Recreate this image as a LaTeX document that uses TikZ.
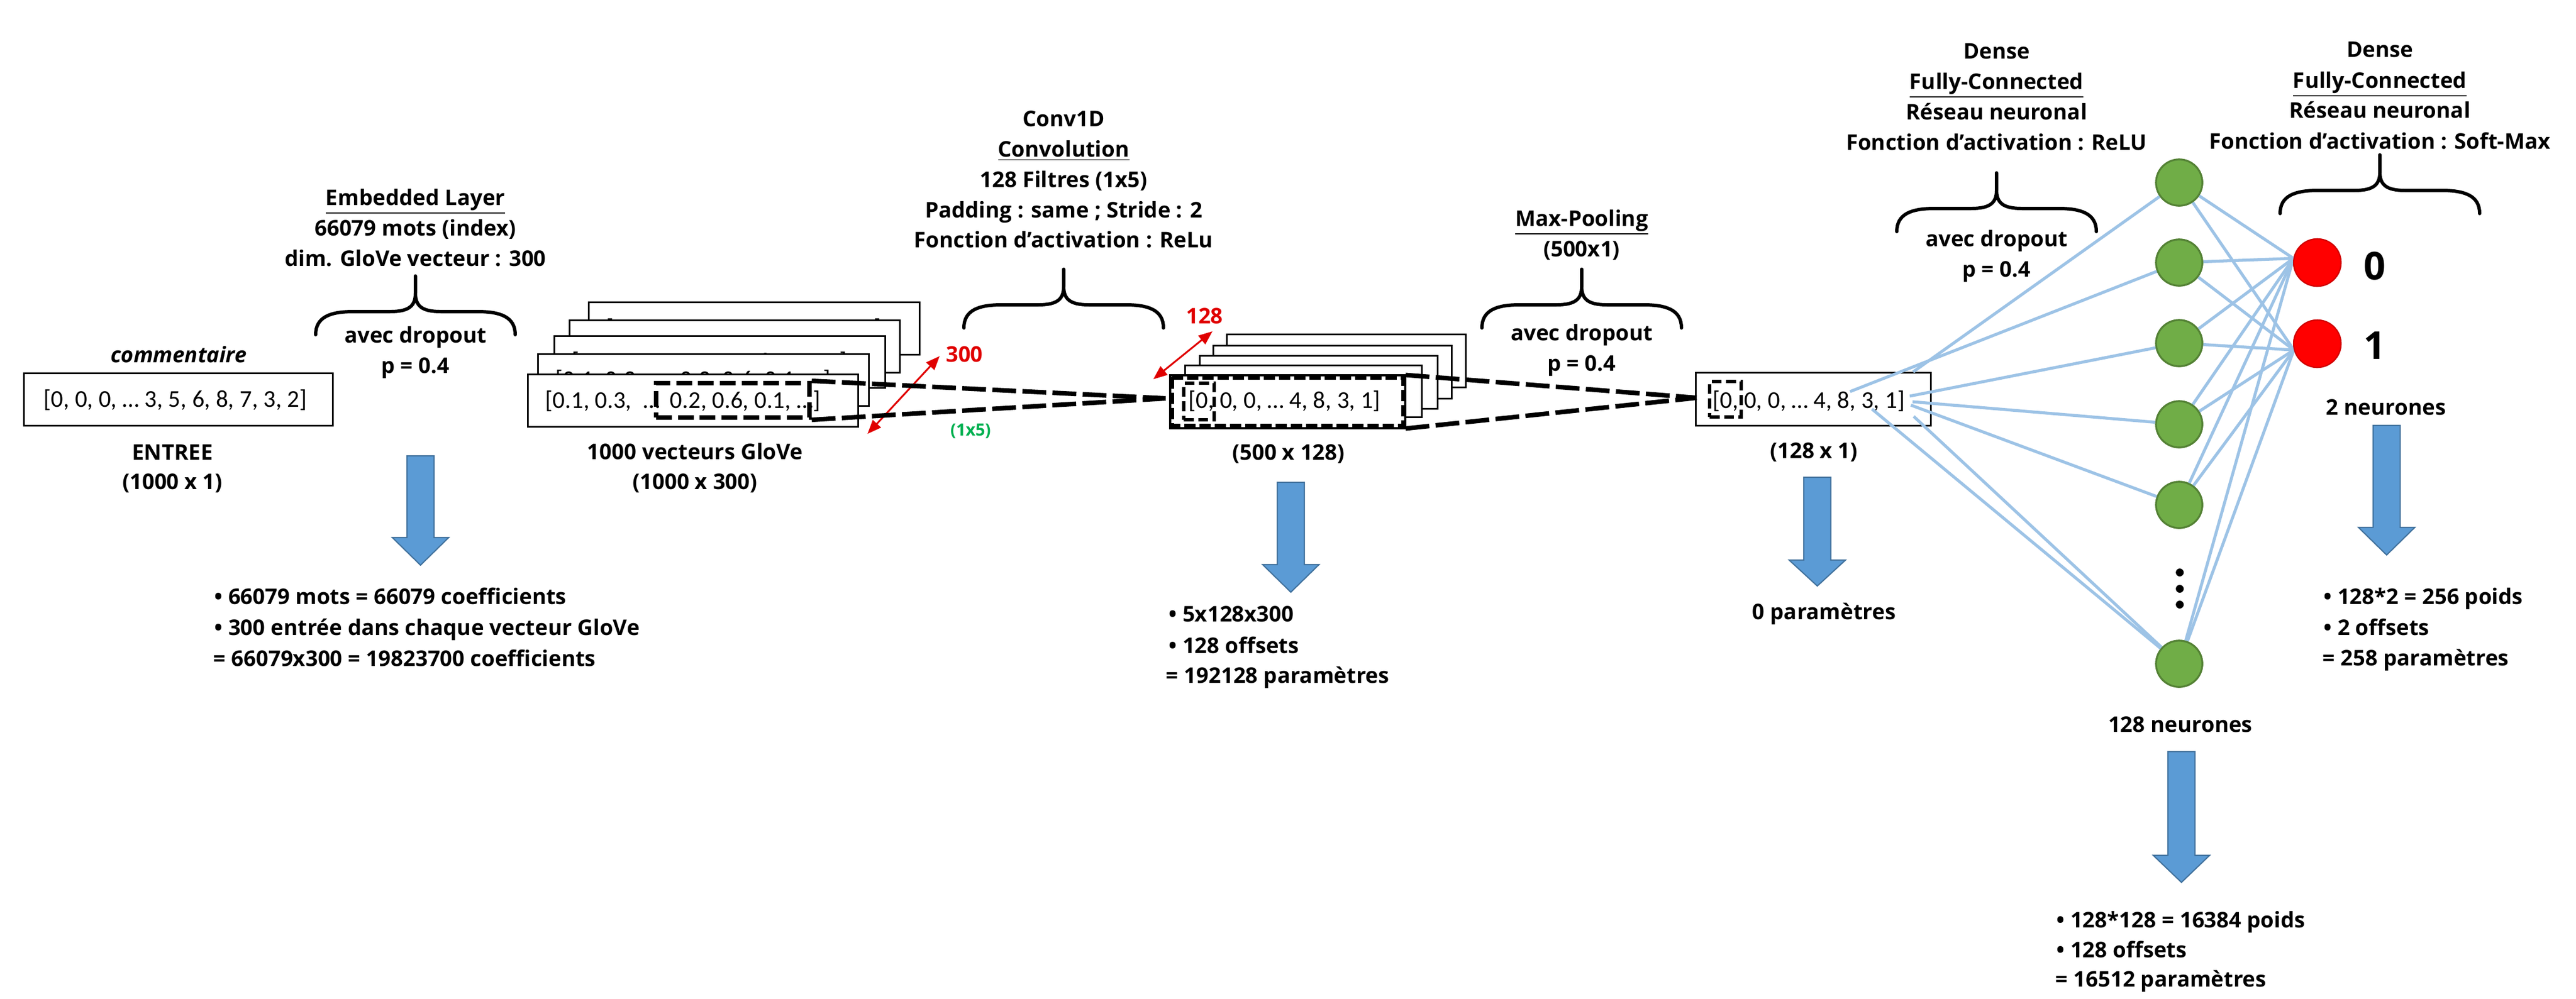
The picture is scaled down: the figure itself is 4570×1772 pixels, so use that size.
\documentclass[tikz,border=0pt]{standalone}
\usepackage{fontspec}
\setmainfont{Open Sans}
\newfontfamily\boxfont{Carlito}
\usetikzlibrary{arrows.meta}

\definecolor{lineblue}{HTML}{9DC3E6}
\definecolor{arrowblue}{HTML}{5B9BD5}
\definecolor{arrowedge}{HTML}{41719C}
\definecolor{neurgreen}{HTML}{70AD47}
\definecolor{neuredge}{HTML}{548235}
\definecolor{neurred}{HTML}{FF0000}
\definecolor{neurrededge}{HTML}{D00000}
\definecolor{darkred}{HTML}{E00000}
\definecolor{labgreen}{HTML}{00B050}

\tikzset{
  lbl/.style={font=\fontsize{10.9}{15}\selectfont\bfseries, anchor=base, inner sep=0pt},
  bul/.style={lbl, anchor=base west},
  redlbl/.style={lbl, text=darkred},
  vecbox/.style={draw=black, line width=0.85pt, fill=white, inner sep=0pt},
  vectxt/.style={font=\boxfont\fontsize{12.2}{14}\selectfont, anchor=base west, inner sep=0pt},
  selbox/.style={draw=black, line width=2.3pt, dash pattern=on 8pt off 3pt, inner sep=0pt},
  smalldash/.style={draw=black, line width=1.7pt, dash pattern=on 5pt off 2.3pt, inner sep=0pt},
  bigdash/.style={draw=black, line width=2.3pt, dash pattern=on 12pt off 3.2pt},
  bracestyle/.style={draw=black, line width=1.7pt, line cap=round},
  conn/.style={draw=lineblue, line width=1.5pt},
  hid/.style={circle, fill=neurgreen, draw=neuredge, line width=0.9pt, minimum size=0.82cm, inner sep=0pt},
  outn/.style={circle, fill=neurred, draw=neurrededge, line width=0.6pt, minimum size=0.84cm, inner sep=0pt},
  dotn/.style={circle, fill=black, minimum size=0.14cm, inner sep=0pt},
  redarrow/.style={draw=darkred, line width=0.9pt, {Triangle[length=7pt,width=5.5pt]}-{Triangle[length=7pt,width=5.5pt]}},
}

\newcommand\glovestr{[0.1, 0.3,\hspace{6pt}…\hspace{5pt}0.2, 0.6, 0.1, …]}

\newcommand\blockarrow[4]{%
  \filldraw[fill=arrowblue, draw=arrowedge, line width=0.6pt]
    (#1-24,#2) -- (#1+24,#2) -- (#1+24,#3) -- (#1+50,#3) -- (#1,#4) -- (#1-50,#3) -- (#1-24,#3) -- cycle;}

\newcommand\upbrace[2]{%
  \begin{scope}[shift={(#1,#2)}]
    \draw[bracestyle] (-177,104) .. controls (-177,72) and (-150,63) .. (-110,63) -- (-45,63) .. controls (-10,63) and (0,52) .. (0,30) -- (0,0);
    \draw[bracestyle] (177,104) .. controls (177,72) and (150,63) .. (110,63) -- (45,63) .. controls (10,63) and (0,52) .. (0,30) -- (0,0);
  \end{scope}}

\begin{document}
\begin{tikzpicture}[x=0.01cm,y=-0.01cm]
\fill[white] (0,0) rectangle (4570,1772);
\useasboundingbox (0,0) rectangle (4570,1772);

% ---------------- Input ----------------
\node[lbl, font=\fontsize{10.9}{15}\selectfont\bfseries\itshape] (comm) at (317,643) {commentaire};
\node[vecbox, minimum width=5.47cm, minimum height=0.92cm] (inbox) at (316.5,709) {};
\node[vectxt] (intext) at (77,722) {[0, 0, 0, … 3, 5, 6, 8, 7, 3, 2]};
\node[lbl] (entree) at (306,816) {ENTREE};
\node[lbl] (entdim) at (306,868) {(1000 x 1)};

% ---------------- Embedded ----------------
\node[lbl] (emb1) at (737,364) {\underline{Embedded Layer}};
\node[lbl] (emb2) at (737,418) {66079 mots (index)};
\node[lbl] (emb3) at (737,472) {dim. GloVe vecteur : 300};
\upbrace{737}{490}
\node[lbl] (embd1) at (737,608) {avec dropout};
\node[lbl] (embd2) at (737,662) {p = 0.4};
\blockarrow{746}{809}{954}{1003}
\node[bul] (lb1) at (380,1072) {• 66079 mots = 66079 coefficients};
\node[bul] (lb2) at (380,1127) {• 300 entrée dans chaque vecteur GloVe};
\node[bul] (lb3) at (378,1182) {= 66079x300 = 19823700 coefficients};

% ---------------- GloVe stack ----------------
\node[vecbox, minimum width=5.86cm, minimum height=0.92cm] (g4) at (1338,583) {};
\node[vectxt] (g4t) at (1075,596) {\glovestr};
\node[vecbox, minimum width=5.86cm, minimum height=0.92cm] (g3) at (1303.5,615) {};
\node[vectxt] (g3t) at (1041,628) {\glovestr};
\node[vecbox, minimum width=5.86cm, minimum height=0.92cm] (g2) at (1277,642.5) {};
\node[vectxt] (g2t) at (1014,655) {\glovestr};
\node[vecbox, minimum width=5.86cm, minimum height=0.92cm] (g1) at (1248,674.5) {};
\node[vectxt] (g1t) at (985,687) {\glovestr};
\node[vecbox, minimum width=5.85cm, minimum height=0.92cm] (gfront) at (1229.5,711) {};
\node[vectxt] (gft) at (967,724) {\glovestr};
\node[selbox, minimum width=2.72cm, minimum height=0.61cm] (gsel) at (1300,710.5) {};
\node[lbl] (glab1) at (1233,815) {1000 vecteurs GloVe};
\node[lbl] (glab2) at (1233,868) {(1000 x 300)};

% red arrow 300
\coordinate (r3a) at (1539,770);
\coordinate (r3b) at (1667,632);
\draw[redarrow] (r3a) -- (r3b);
\node[redlbl] (l300) at (1711,642) {300};
\node[lbl, font=\fontsize{8.5}{10}\selectfont\bfseries, text=labgreen] (l1x5) at (1722,773) {(1x5)};

% ---------------- Conv1D ----------------
\node[lbl] (cv1) at (1887,224) {Conv1D};
\node[lbl] (cv2) at (1887,278) {\underline{Convolution}};
\node[lbl] (cv3) at (1887,332) {128 Filtres (1x5)};
\node[lbl] (cv4) at (1887,386) {Padding : same ; Stride : 2};
\node[lbl] (cv5) at (1887,439) {Fonction d’activation : ReLu};
\upbrace{1887}{478}

\node[vecbox, minimum width=4.23cm, minimum height=0.93cm] (c4) at (2388.5,640.5) {};
\node[vecbox, minimum width=4.22cm, minimum height=0.93cm] (c3) at (2364,660.5) {};
\node[vecbox, minimum width=4.21cm, minimum height=0.93cm] (c2) at (2339.5,678.5) {};
\node[vecbox, minimum width=4.19cm, minimum height=0.91cm] (c1) at (2312.5,694.5) {};
\node[vecbox, minimum width=4.15cm, minimum height=0.92cm] (cfront) at (2284.5,713) {};
\draw[line width=2.3pt, dash pattern=on 5.7pt off 2pt] ([shift={(4,4)}]cfront.north west) rectangle ([shift={(-4,-4)}]cfront.south east);
\draw[line width=0.85pt] (cfront.north west) rectangle (cfront.south east);
\node[vectxt] (cft) at (2108,724) {[0, 0, 0, … 4, 8, 3, 1]};
\node[smalldash, minimum width=0.54cm, minimum height=0.65cm] (csel) at (2127,712.5) {};
\node[lbl] (clab) at (2286,816) {(500 x 128)};

% dashed funnel GloVe -> conv
\coordinate (cin) at (2068,707);
\draw[bigdash] (gsel.north east) -- (cin);
\draw[bigdash] (gsel.south east) -- (cin);

% red arrow 128
\coordinate (r1a) at (2046,673);
\coordinate (r1b) at (2151,588);
\draw[redarrow] (r1a) -- (r1b);
\node[redlbl] (l128) at (2137,574) {128};

\blockarrow{2290}{856}{1002}{1051}
\node[bul] (mb1) at (2073,1103) {• 5x128x300};
\node[bul] (mb2) at (2073,1159) {• 128 offsets};
\node[bul] (mb3) at (2068,1212) {= 192128 paramètres};

% ---------------- Max pooling ----------------
\node[lbl] (mp1) at (2806,401) {\underline{Max-Pooling}};
\node[lbl] (mp2) at (2806,455) {(500x1)};
\upbrace{2806}{478}
\node[lbl] (mpd1) at (2806,604) {avec dropout};
\node[lbl] (mpd2) at (2806,658) {p = 0.4};

\node[vecbox, minimum width=4.16cm, minimum height=0.93cm] (b128) at (3217,708.5) {};
\node[vectxt] (b128t) at (3038,724) {[0, 0, 0, … 4, 8, 3, 1]};
\node[smalldash, minimum width=0.56cm, minimum height=0.63cm] (bsel) at (3061,708.5) {};
\node[lbl] (blab) at (3218,813) {(128 x 1)};
\coordinate (bin) at (3010,706);
\draw[bigdash] (cfront.north east) -- (bin);
\draw[bigdash] (cfront.south east) -- (bin);
\blockarrow{3224}{847}{994}{1040}
\node[lbl] (bpar) at (3236,1099) {0 paramètres};

% ---------------- Dense 1 ----------------
\node[lbl] (d11) at (3542,104) {Dense};
\node[lbl] (d12) at (3542,158) {\underline{Fully-Connected}};
\node[lbl] (d13) at (3542,212) {Réseau neuronal};
\node[lbl] (d14) at (3542,266) {Fonction d’activation : ReLU};
\upbrace{3542}{307}
\node[lbl] (d1d1) at (3542,437) {avec dropout};
\node[lbl] (d1d2) at (3542,491) {p = 0.4};

% ---------------- Dense 2 ----------------
\node[lbl] (d21) at (4222,101) {Dense};
\node[lbl] (d22) at (4222,156) {\underline{Fully-Connected}};
\node[lbl] (d23) at (4222,209) {Réseau neuronal};
\node[lbl] (d24) at (4222,264) {Fonction d’activation : Soft-Max};
\upbrace{4222}{275}

% ---------------- neurons ----------------
\node[hid] (h1) at (3866,324) {};
\node[hid] (h2) at (3866,466) {};
\node[hid] (h3) at (3866,609) {};
\node[hid] (h4) at (3866,753) {};
\node[hid] (h5) at (3866,896) {};
\node[hid] (h6) at (3866,1178) {};
\node[dotn] (dot1) at (3867,1016) {};
\node[dotn] (dot2) at (3867,1045) {};
\node[dotn] (dot3) at (3867,1073) {};
\node[outn] (o0) at (4111,466) {};
\node[outn] (o1) at (4111,610) {};

\coordinate (s1) at (3394,660);
\coordinate (s2) at (3282,695);
\coordinate (s3) at (3388,703);
\coordinate (s4) at (3393,713);
\coordinate (s5) at (3390,719);
\coordinate (s6) at (3321,726);
\coordinate (s7) at (3395,739);
\draw[conn] (s1) -- (h1);
\draw[conn] (s2) -- (h2);
\draw[conn] (s3) -- (h3);
\draw[conn] (s4) -- (h4);
\draw[conn] (s5) -- (h5);
\draw[conn] (s6) -- (h6);
\draw[conn] (s7) -- (h6);
\foreach \h in {h1,h2,h3,h4,h5,h6}{
  \draw[conn] (\h) -- (o0.170);
  \draw[conn] (\h) -- (o1.195);
}
% redraw neurons on top
\node[hid] at (h1) {};
\node[hid] at (h2) {};
\node[hid] at (h3) {};
\node[hid] at (h4) {};
\node[hid] at (h5) {};
\node[hid] at (h6) {};
\node[outn] at (o0) {};
\node[outn] at (o1) {};

\node[lbl, font=\fontsize{19.4}{22}\selectfont\bfseries] (lab0) at (4213,496) {0};
\node[lbl, font=\fontsize{19.4}{22}\selectfont\bfseries] (lab1) at (4213,637) {1};
\node[lbl] (n2) at (4233,736) {2 neurones};
\blockarrow{4234}{755}{936}{985}
\node[bul] (rb1) at (4122,1072) {• 128*2 = 256 poids};
\node[bul] (rb2) at (4122,1127) {• 2 offsets};
\node[bul] (rb3) at (4120,1181) {= 258 paramètres};

\node[lbl] (n128) at (3868,1299) {128 neurones};
\blockarrow{3870}{1334}{1518}{1566}
\node[bul] (bb1) at (3648,1646) {• 128*128 = 16384 poids};
\node[bul] (bb2) at (3648,1699) {• 128 offsets};
\node[bul] (bb3) at (3646,1751) {= 16512 paramètres};
\end{tikzpicture}
\end{document}
